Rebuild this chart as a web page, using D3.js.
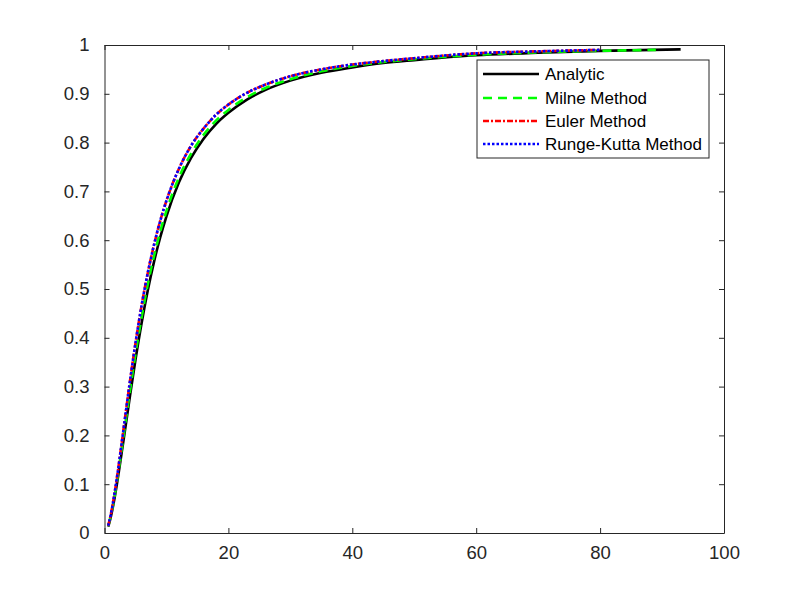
<!DOCTYPE html>
<html>
<head>
<meta charset="utf-8">
<script src="https://cdn.jsdelivr.net/npm/d3@7"></script>
<style>
  html, body { margin: 0; padding: 0; background: #ffffff; }
  svg { display: block; }
  text { font-family: "Liberation Sans", Arial, Helvetica, sans-serif; }
</style>
</head>
<body>
<svg id="chart" width="800" height="600"></svg>
<script>
// ---- data ----
const seriesNames = ["Analytic", "Milne Method", "Euler Method", "Runge-Kutta Method"];

const analyticX = [0.6, 1, 1.5, 2, 3, 4, 5, 6, 7, 8, 9, 10, 12, 14, 16, 18, 20, 23, 26, 30, 35, 40, 45, 50, 60, 70, 80, 93];
const analyticY = [0.013, 0.032, 0.063, 0.100, 0.184, 0.271, 0.355, 0.431, 0.498, 0.556, 0.606, 0.649, 0.718, 0.769, 0.808, 0.838, 0.861, 0.888, 0.908, 0.927, 0.943, 0.954, 0.963, 0.969, 0.979, 0.984, 0.988, 0.991];

const milneX = [0.6, 1, 1.5, 2, 3, 4, 5, 6, 7, 8, 9, 10, 12, 14, 16, 18, 20, 23, 26, 30, 35, 40, 45, 50, 60, 70, 80, 89];
const milneY = [0.014, 0.034, 0.066, 0.105, 0.192, 0.281, 0.367, 0.443, 0.511, 0.568, 0.618, 0.660, 0.728, 0.778, 0.816, 0.845, 0.867, 0.893, 0.912, 0.930, 0.946, 0.957, 0.965, 0.971, 0.980, 0.985, 0.988, 0.990];

const eulerX = [0.6, 1, 1.5, 2, 3, 4, 5, 6, 7, 8, 9, 10, 12, 14, 16, 18, 20, 23, 26, 30, 35, 40, 45, 50, 60, 70, 80];
const eulerY = [0.015, 0.037, 0.072, 0.113, 0.206, 0.301, 0.389, 0.467, 0.534, 0.591, 0.640, 0.681, 0.746, 0.794, 0.829, 0.857, 0.878, 0.902, 0.919, 0.936, 0.950, 0.960, 0.967, 0.973, 0.983, 0.987, 0.990];

const rkX = [0.6, 1, 1.5, 2, 3, 4, 5, 6, 7, 8, 9, 10, 12, 14, 16, 18, 20, 23, 26, 30, 35, 40, 45, 50, 60, 70, 80];
const rkY = [0.015, 0.037, 0.072, 0.113, 0.206, 0.301, 0.389, 0.467, 0.534, 0.591, 0.640, 0.681, 0.746, 0.794, 0.829, 0.857, 0.878, 0.902, 0.919, 0.936, 0.950, 0.960, 0.967, 0.973, 0.983, 0.987, 0.990];

const xTicks = [0, 20, 40, 60, 80, 100];
const yTicks = [0, 0.1, 0.2, 0.3, 0.4, 0.5, 0.6, 0.7, 0.8, 0.9, 1];

// ---- layout ----
const svg = d3.select("#chart");
const L = 104.5, R = 724, T = 45, B = 533;
const axisColor = "#262626";

const x = d3.scaleLinear().domain([0, 100]).range([L, R]);
const y = d3.scaleLinear().domain([0, 1]).range([B, T]);

svg.append("rect").attr("x", 0).attr("y", 0).attr("width", 800).attr("height", 600).attr("fill", "#ffffff");
svg.append("rect").attr("x", L).attr("y", T).attr("width", R - L).attr("height", B - T).attr("fill", "#ffffff");

// ---- curves ----
const series = [
  { xs: analyticX, ys: analyticY, color: "#000000", width: 2.6, dash: null },
  { xs: milneX, ys: milneY, color: "#00ff00", width: 2.6, dash: "9,6" },
  { xs: eulerX, ys: eulerY, color: "#ff0000", width: 2.6, dash: "6,2,2,2" },
  { xs: rkX, ys: rkY, color: "#0000ff", width: 2.6, dash: "2.5,2" }
];

const line = d3.line().x(d => x(d[0])).y(d => y(d[1])).curve(d3.curveMonotoneX);

series.forEach(s => {
  const pts = s.xs.map((v, i) => [v, s.ys[i]]);
  svg.append("path")
    .attr("d", line(pts))
    .attr("fill", "none")
    .attr("stroke", s.color)
    .attr("stroke-width", s.width)
    .attr("stroke-dasharray", s.dash)
    .attr("stroke-linejoin", "round");
});

// ---- axes (ticks inward, mirrored on top/right) ----
const fontSize = 18.5;
const xAxisB = d3.axisBottom(x).tickValues(xTicks).tickSizeInner(-5).tickSizeOuter(0).tickPadding(13).tickFormat(d3.format("d"));
const xAxisT = d3.axisTop(x).tickValues(xTicks).tickSizeInner(-5).tickSizeOuter(0).tickFormat("");
const yAxisL = d3.axisLeft(y).tickValues(yTicks).tickSizeInner(-5).tickSizeOuter(0).tickPadding(15).tickFormat(d => d === 0 ? "0" : d === 1 ? "1" : d3.format(".1f")(d));
const yAxisR = d3.axisRight(y).tickValues(yTicks).tickSizeInner(-5).tickSizeOuter(0).tickFormat("");

function styleAxis(g) {
  g.selectAll("path.domain").attr("stroke", axisColor).attr("stroke-width", 1);
  g.selectAll(".tick line").attr("stroke", axisColor).attr("stroke-width", 1);
  g.selectAll(".tick text").attr("fill", axisColor).attr("font-size", fontSize)
    .attr("font-family", "'Liberation Sans', Arial, Helvetica, sans-serif");
}

svg.append("g").attr("transform", `translate(0,${B})`).call(xAxisB).call(styleAxis);
svg.append("g").attr("transform", `translate(0,${T})`).call(xAxisT).call(styleAxis);
svg.append("g").attr("transform", `translate(${L},0)`).call(yAxisL).call(styleAxis);
svg.append("g").attr("transform", `translate(${R},0)`).call(yAxisR).call(styleAxis);

// ---- legend ----
const lg = svg.append("g");
const lgX = 477, lgY = 60, lgW = 232, lgH = 98;
lg.append("rect").attr("x", lgX).attr("y", lgY).attr("width", lgW).attr("height", lgH)
  .attr("fill", "#ffffff").attr("stroke", axisColor).attr("stroke-width", 1);
const rowY = [74, 98, 121, 144];
series.forEach((s, i) => {
  lg.append("line").attr("x1", 483).attr("x2", 539).attr("y1", rowY[i]).attr("y2", rowY[i])
    .attr("stroke", s.color).attr("stroke-width", s.width).attr("stroke-dasharray", s.dash);
  lg.append("text").attr("x", 545).attr("y", rowY[i]).attr("dy", "0.35em")
    .attr("font-size", 17).attr("fill", "#000000").text(seriesNames[i]);
});
</script>
</body>
</html>
